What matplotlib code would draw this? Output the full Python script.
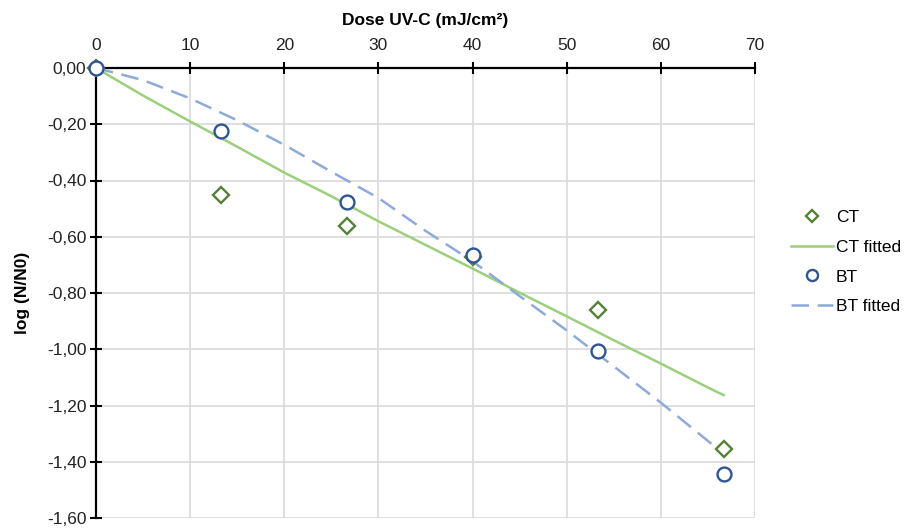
import matplotlib
matplotlib.use("Agg")
import matplotlib.pyplot as plt
from matplotlib.ticker import FixedLocator, FuncFormatter
from matplotlib.lines import Line2D

plt.rcParams['font.family'] = ['Liberation Sans', 'DejaVu Sans']

# Data
dose = [0, 13.33, 26.67, 40.0, 53.33, 66.67]
ct = [0.0, -0.452, -0.562, -0.672, -0.860, -1.355]
bt = [0.0, -0.224, -0.476, -0.665, -1.006, -1.444]

fit_dose = [0, 5, 10, 15, 20, 25, 30, 35, 40, 45, 50, 55, 60, 65, 66.67]
ct_fit = [0.0, -0.098, -0.19, -0.280, -0.372, -0.456, -0.545, -0.629, -0.713,
          -0.799, -0.883, -0.968, -1.051, -1.136, -1.163]
bt_fit = [0.0, -0.043, -0.108, -0.186, -0.273, -0.369, -0.462, -0.579, -0.687,
          -0.811, -0.933, -1.061, -1.190, -1.326, -1.372]

xticks = [0, 10, 20, 30, 40, 50, 60, 70]
yticks = [0.0, -0.2, -0.4, -0.6, -0.8, -1.0, -1.2, -1.4, -1.6]

FS = 12.5

fig = plt.figure(figsize=(9.11, 5.28), dpi=100)
ax = fig.add_axes([96/911, 1-518/528, (755-96)/911, (518-68)/528])

ax.set_xlim(0, 70)
ax.set_ylim(-1.6, 0)

grid_c = '#d9d9d9'
ax.xaxis.set_major_locator(FixedLocator(xticks))
ax.yaxis.set_major_locator(FixedLocator(yticks))
ax.grid(True, color=grid_c, linewidth=1.2, zorder=0)
ax.set_axisbelow(True)

ax.yaxis.set_major_formatter(FuncFormatter(lambda v, p: ("%.2f" % v).replace('.', ',').replace('-0,00', '0,00')))
ax.xaxis.set_major_formatter(FuncFormatter(lambda v, p: "%d" % round(v)))

ax.xaxis.tick_top()
ax.xaxis.set_label_position('top')
ax.tick_params(axis='both', direction='inout', length=8, width=1.5, color='black',
               labelsize=FS, labelcolor='#222222')
ax.tick_params(axis='x', pad=7)
ax.tick_params(axis='y', pad=3)

for s in ['bottom', 'right']:
    ax.spines[s].set_visible(False)
for s in ['top', 'left']:
    ax.spines[s].set_linewidth(1.6)
    ax.spines[s].set_color('black')

ax.set_xlabel('Dose UV-C (mJ/cm²)', fontsize=FS, fontweight='bold', labelpad=9)
ax.set_ylabel('log (N/N0)', fontsize=FS, fontweight='bold', labelpad=12)

green_line = '#9BD07A'
green_mk = '#548235'
blue_line = '#8EA9DB'
blue_mk = '#2F5597'

ax.plot(fit_dose, ct_fit, color=green_line, lw=1.8, zorder=3)
ax.plot(fit_dose, bt_fit, color=blue_line, lw=1.8, dashes=(7, 3.5), zorder=3)
ax.plot(dose, ct, linestyle='none', marker='D', markersize=8, markerfacecolor='white',
        markeredgecolor=green_mk, markeredgewidth=1.7, zorder=4, clip_on=False)
ax.plot(dose, bt, linestyle='none', marker='o', markersize=10, markerfacecolor='white',
        markeredgecolor=blue_mk, markeredgewidth=1.7, zorder=5, clip_on=False)

handles = [
    Line2D([], [], linestyle='none', marker='D', markersize=6, markerfacecolor='white',
           markeredgecolor=green_mk, markeredgewidth=1.7),
    Line2D([], [], color=green_line, lw=1.8),
    Line2D([], [], linestyle='none', marker='o', markersize=8, markerfacecolor='white',
           markeredgecolor=blue_mk, markeredgewidth=1.7),
    Line2D([], [], color=blue_line, lw=1.8, dashes=(7, 3.5)),
]
labels = ['CT', 'CT fitted', 'BT', 'BT fitted']
fig.legend(handles, labels, loc='center left', bbox_to_anchor=(784/911, 1-262/528),
           frameon=False, fontsize=FS, handlelength=2.4, handletextpad=0.2,
           labelspacing=0.85, borderaxespad=0)

fig.savefig('out.png', dpi=100)
